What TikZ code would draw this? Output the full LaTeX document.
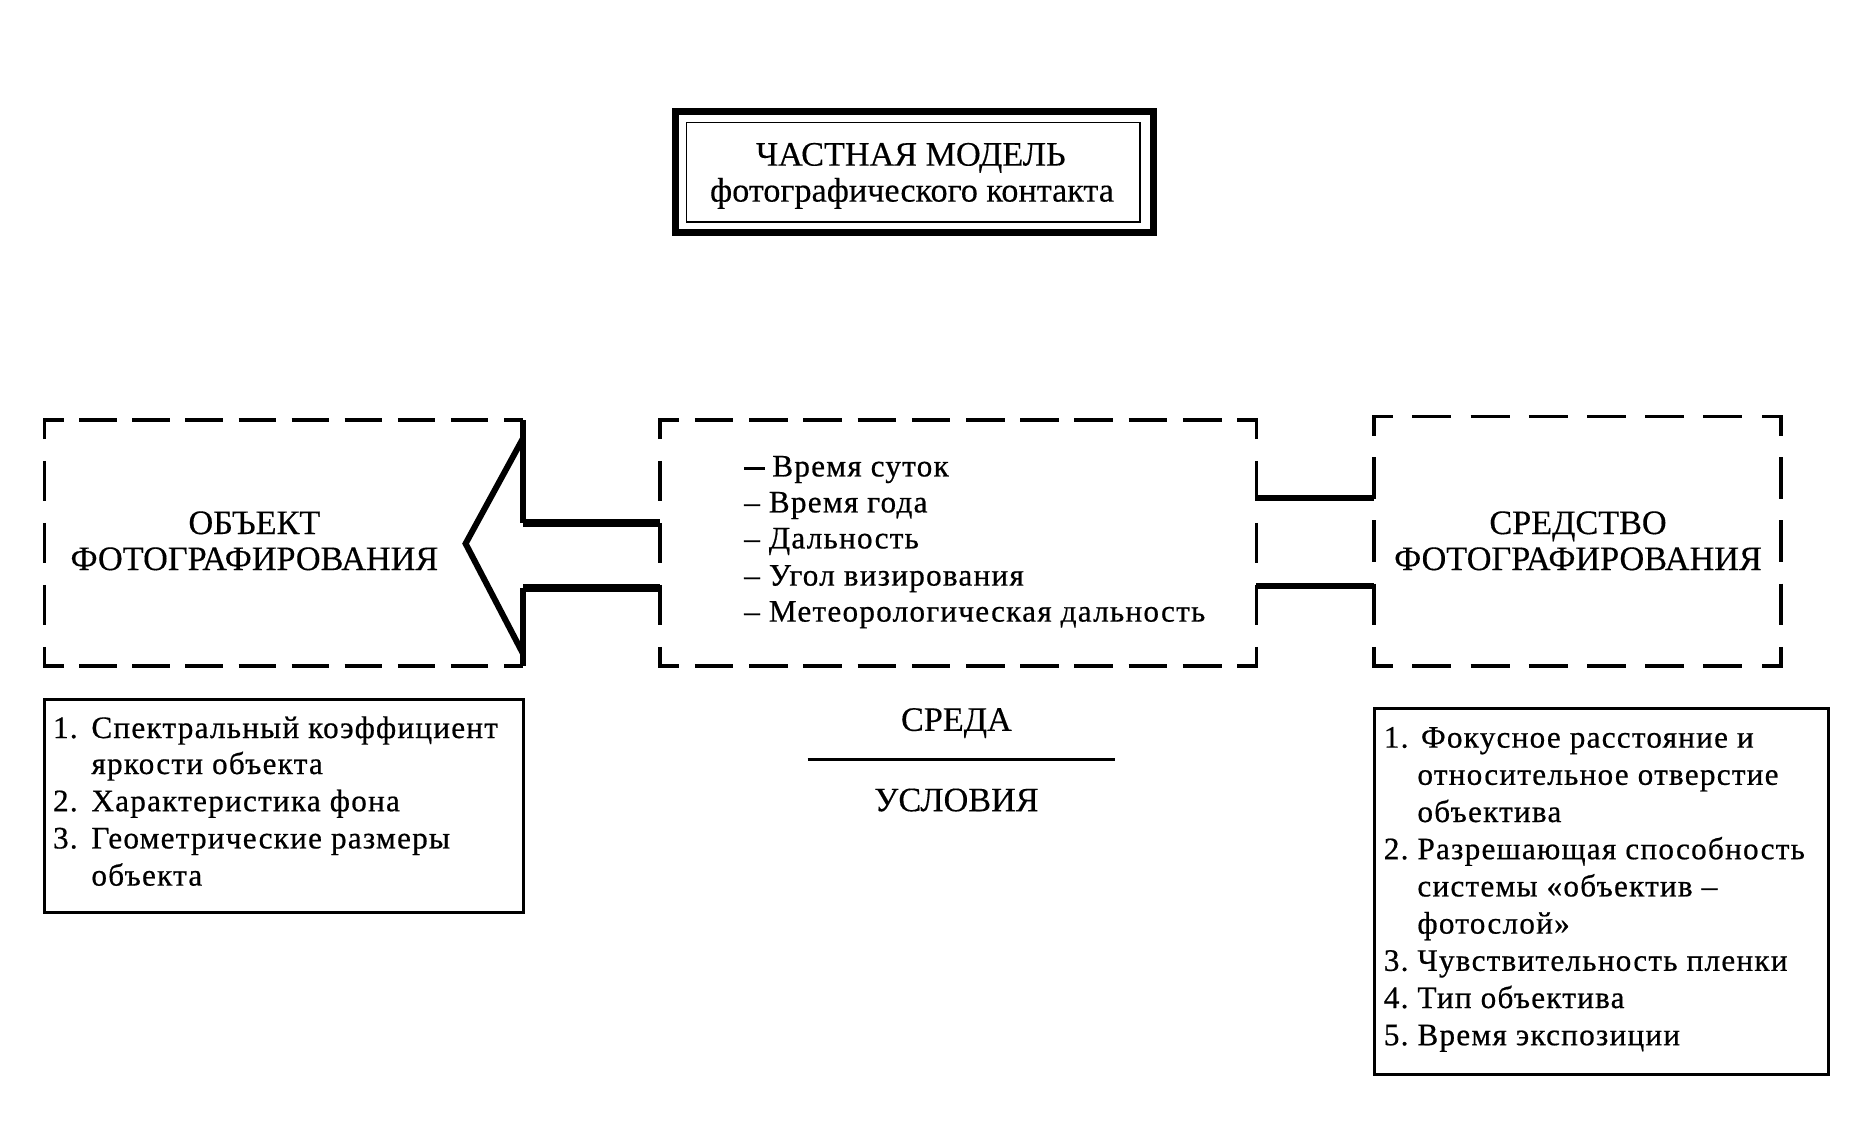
\documentclass[tikz,border=0pt]{standalone}
\usepackage{fontspec}
\setmainfont{Liberation Serif}
\newfontfamily\lsfont[LetterSpace=4.0,FakeBold=0.6]{Liberation Serif}
\newfontfamily\capfont[FakeBold=0.3]{Liberation Serif}
\usetikzlibrary{calc}
\newcommand\dcl{16}
% dashed edge between two points on an axis-aligned line: n dashes, gap g
\newcommand\dedge[6]{%
  \pgfmathsetmacro\dlen{abs((#3)-(#1))+abs((#4)-(#2))}%
  \pgfmathsetmacro\dd{(\dlen-2*\dcl-(#5+1)*(#6))/(#5)}%
  \pgfmathsetmacro\dfr{(\dcl+#6)/\dlen}%
  \draw[dline, dash pattern=on \dd pt off #6pt] ($(#1,#2)!\dfr!(#3,#4)$) -- ($(#3,#4)!\dfr!(#1,#2)$);%
}
\begin{document}
\begin{tikzpicture}[x=1pt,y=-1pt,
  dline/.style={line width=3pt},
  cline/.style={line width=3pt,line join=miter},
  capt/.style={font=\capfont\fontsize{28.5}{33}\selectfont, inner sep=0pt, anchor=base},
  lst/.style={font=\lsfont\fontsize{26}{31}\selectfont, inner sep=0pt, anchor=base west},
  frame/.style={line width=2.5pt},
  shaft/.style={line width=7pt},
  head/.style={line width=5pt,line join=miter,miter limit=12},
  link/.style={line width=5pt}]
\useasboundingbox (0,0) rectangle (1562.5,937.5);
\fill[white] (0,0) rectangle (1562.5,937.5);

% ---- title box
\draw[line width=6pt] (563,93) rectangle (961,194);
\draw[line width=1.5pt] (572,102) rectangle (950,185);
\node[capt] (t1) at (759,138) {ЧАСТНАЯ МОДЕЛЬ};
\node[capt] (t2) at (760,168) {фотографического контакта};

% ---- left dashed box (object)
\coordinate (Ltr) at (436,350);
\coordinate (Lbr) at (436,555);
\draw[cline] (37,350+\dcl) -- (37,350) -- (37+\dcl,350);
\draw[cline] (37,555-\dcl) -- (37,555) -- (37+\dcl,555);
\draw[cline] (436-\dcl,350) -- (Ltr);
\draw[cline] (436-\dcl,555) -- (Lbr);
\dedge{37}{350}{436}{350}{8}{13}
\dedge{37}{555}{436}{555}{8}{13}
\dedge{37}{350}{37}{555}{3}{18}
\node[capt] (obj1) at (212,445) {ОБЪЕКТ};
\node[capt] (obj2) at (212,475) {ФОТОГРАФИРОВАНИЯ};

% ---- middle dashed box (environment)
\draw[cline] (550,350+\dcl) -- (550,350) -- (550+\dcl,350);
\draw[cline] (550,555-\dcl) -- (550,555) -- (550+\dcl,555);
\draw[cline] (1047,350+\dcl) -- (1047,350) -- (1047-\dcl,350);
\draw[cline] (1047,555-\dcl) -- (1047,555) -- (1047-\dcl,555);
\dedge{550}{350}{1047}{350}{10}{13}
\dedge{550}{555}{1047}{555}{10}{13}
\dedge{550}{350}{550}{555}{3}{18}
\dedge{1047}{350}{1047}{555}{3}{18}
\node[lst] (m1) at (620,397) {\rule[0.2em]{0.66em}{0.09em}\hspace{0.24em}Время суток};
\node[lst] (m2) at (620,427) {– Время года};
\node[lst] (m3) at (620,457) {– Дальность};
\node[lst] (m4) at (620,488) {– Угол визирования};
\node[lst] (m5) at (620,518) {– Метеорологическая дальность};

% ---- right dashed box (means)
\draw[cline] (1145,347+\dcl) -- (1145,347) -- (1145+\dcl,347);
\draw[cline] (1145,555-\dcl) -- (1145,555) -- (1145+\dcl,555);
\draw[cline] (1484,347+\dcl) -- (1484,347) -- (1484-\dcl,347);
\draw[cline] (1484,555-\dcl) -- (1484,555) -- (1484-\dcl,555);
\dedge{1145}{347}{1484}{347}{6}{16}
\dedge{1145}{555}{1484}{555}{6}{16}
\dedge{1145}{347}{1145}{555}{3}{18}
\dedge{1484}{347}{1484}{555}{3}{18}
\node[capt] (sr1) at (1315,445) {СРЕДСТВО};
\node[capt] (sr2) at (1315,475) {ФОТОГРАФИРОВАНИЯ};

% ---- big hollow arrow: environment -> object
\coordinate (Mtl) at (550,436);
\coordinate (Mbl) at (550,490);
\coordinate (Ashu) at (436,436);
\coordinate (Ashl) at (436,490);
\coordinate (Ahu) at (436,365);
\coordinate (Atip) at (388,453);
\coordinate (Ahl) at (436,545);
\draw[head] (Ltr) -- (Ashu);
\draw[head] (Ashl) -- (Lbr);
\draw[shaft] (Ashu) -- (Mtl);
\draw[shaft] (Ashl) -- (Mbl);
\draw[head] (Ahu) -- (Atip) -- (Ahl);

% ---- links environment <-> means
\coordinate (Mru) at (1047,415);
\coordinate (Rlu) at (1145,415);
\coordinate (Mrl) at (1047,488);
\coordinate (Rll) at (1145,488);
\draw[link] (Mru) -- (Rlu);
\draw[link] (Mrl) -- (Rll);

% ---- СРЕДА / УСЛОВИЯ
\node[capt] (sreda) at (797,609) {СРЕДА};
\coordinate (fl) at (673,633);
\coordinate (fr) at (929,633);
\draw[line width=3pt] (fl) -- (fr);
\node[capt] (usl) at (797,676) {УСЛОВИЯ};

% ---- object list
\draw[frame] (37,583) rectangle (436,760);
\node[lst] (o1n) at (44,615) {1.};
\node[lst] (o1)  at (76,615) {Спектральный коэффициент};
\node[lst] (o1b) at (76,645) {яркости объекта};
\node[lst] (o2n) at (44,676) {2.};
\node[lst] (o2)  at (76,676) {Характеристика фона};
\node[lst] (o3n) at (44,707) {3.};
\node[lst] (o3)  at (76,707) {Геометрические размеры};
\node[lst] (o3b) at (76,738) {объекта};

% ---- means list
\draw[frame] (1145,590) rectangle (1524,895);
\node[lst] (s1n) at (1153,623) {1.};
\node[lst] (s1)  at (1184,623) {Фокусное расстояние и};
\node[lst] (s1b) at (1181,654) {относительное отверстие};
\node[lst] (s1c) at (1181,685) {объектива};
\node[lst] (s2n) at (1153,716) {2.};
\node[lst] (s2)  at (1181,716) {Разрешающая способность};
\node[lst] (s2b) at (1181,747) {системы «объектив –};
\node[lst] (s2c) at (1181,778) {фотослой»};
\node[lst] (s3n) at (1153,809) {3.};
\node[lst] (s3)  at (1181,809) {Чувствительность пленки};
\node[lst] (s4n) at (1153,840) {4.};
\node[lst] (s4)  at (1181,840) {Тип объектива};
\node[lst] (s5n) at (1153,871) {5.};
\node[lst] (s5)  at (1181,871) {Время экспозиции};
\end{tikzpicture}
\end{document}
